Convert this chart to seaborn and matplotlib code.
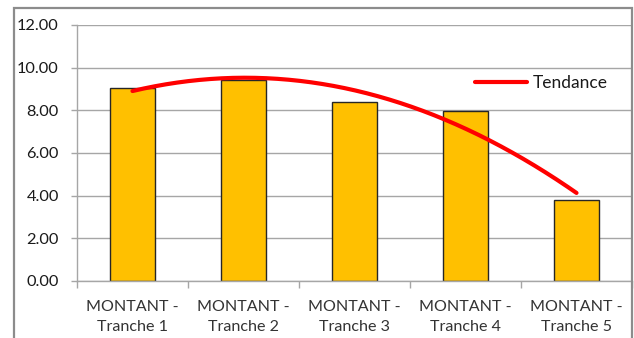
import numpy as np
import pandas as pd
import matplotlib
matplotlib.use("Agg")
import matplotlib.pyplot as plt
from matplotlib.patches import Rectangle
from matplotlib.ticker import FixedLocator, FormatStrFormatter
import seaborn as sns

# Amounts per tranche
categories = ["MONTANT -\nTranche 1", "MONTANT -\nTranche 2", "MONTANT -\nTranche 3",
              "MONTANT -\nTranche 4", "MONTANT -\nTranche 5"]
montants = [9.05, 9.42, 8.39, 7.98, 3.80]
trend_label = "Tendance"
y_ticks = [0, 2, 4, 6, 8, 10, 12]

sns.set_theme(style="white")
plt.rcParams["font.family"] = ["Lato", "DejaVu Sans"]

W, H = 634, 338
fig = plt.figure(figsize=(W / 100, H / 100), dpi=100)
ax = fig.add_axes([77 / W, 1 - 281 / H, (632 - 77) / W, (281 - 25) / H])

df = pd.DataFrame({"cat": categories, "val": montants})
sns.barplot(data=df, x="cat", y="val", ax=ax, color="#FFC000", width=0.41,
            edgecolor="#262626", linewidth=1.0, saturation=1)

# Second-order polynomial trend line over the bars
xs = np.arange(len(montants))
coef = np.polyfit(xs, montants, 2)
xf = np.linspace(0, len(montants) - 1, 200)
ax.plot(xf, np.polyval(coef, xf), color="#FF0000", lw=3, label=trend_label,
        solid_capstyle="round", zorder=4)

ax.set_xlim(-0.5, len(montants) - 0.5)
ax.set_ylim(0, 12)
ax.set_yticks(y_ticks)
ax.yaxis.set_major_formatter(FormatStrFormatter("%.2f"))
ax.set_xlabel("")
ax.set_ylabel("")

grid_c = "#A6A6A6"
ax.set_axisbelow(True)
ax.grid(axis="y", color=grid_c, lw=1.0)
ax.grid(axis="x", visible=False)
for s in ["top", "right"]:
    ax.spines[s].set_visible(False)
for s in ["left", "bottom"]:
    ax.spines[s].set_color(grid_c)
    ax.spines[s].set_linewidth(1.0)

ax.tick_params(axis="y", which="major", length=4, width=1, color=grid_c,
               labelsize=11.8, labelcolor="#1a1a1a", pad=9, left=True)
ax.tick_params(axis="x", which="major", length=0, labelsize=11.6,
               labelcolor="#333333", pad=13.5)
ax.xaxis.set_minor_locator(FixedLocator(np.arange(-0.5, len(montants), 1.0)))
ax.tick_params(axis="x", which="minor", length=5, width=1, color=grid_c,
               bottom=True)
for lab in ax.get_xticklabels():
    lab.set_linespacing(1.6)

ax.legend(loc="center left", bbox_to_anchor=((475 - 77) / 555, (281 - 83) / 256),
          frameon=False, fontsize=12.5, handlelength=3.0, handletextpad=0.35,
          borderpad=0, borderaxespad=0, labelcolor="#1a1a1a")

# Chart area frame
fig.patches.append(Rectangle((13.5 / W, -0.1), (632 - 13.5) / W, 1.1 - 8.5 / H,
                             transform=fig.transFigure, fill=False,
                             edgecolor="#8C8C8C", lw=1.6, zorder=10))

fig.savefig("out.png", dpi=100)
